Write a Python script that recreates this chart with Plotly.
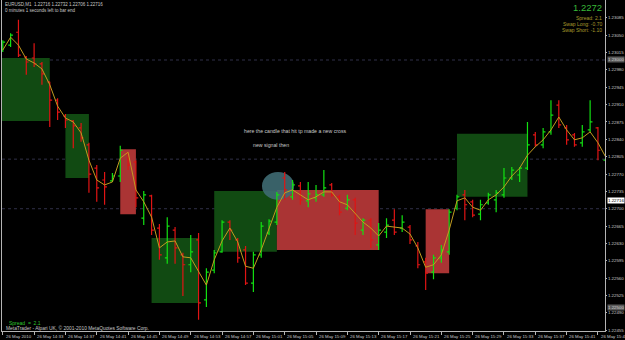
import plotly.graph_objects as go

# ---------------- data ----------------
bar_index = list(range(78))

opens = [1.23020, 1.23030, 1.23056, 1.23006, 1.23004, 1.22992, 1.22956, 1.22919, 1.22887, 1.22877,
         1.22863, 1.22829, 1.22782, 1.22758, 1.22756, 1.22766, 1.22812, 1.22794, 1.22681, 1.22726,
         1.22661, 1.22601, 1.22657, 1.22607, 1.22587, 1.22637, 1.22516, 1.22576, 1.22613, 1.22673,
         1.22637, 1.22617, 1.22550, 1.22607, 1.22651, 1.22673, 1.22762, 1.22724, 1.22746, 1.22716,
         1.22722, 1.22728, 1.22748, 1.22724, 1.22701, 1.22718, 1.22657, 1.22677, 1.22627, 1.22653,
         1.22677, 1.22661, 1.22663, 1.22625, 1.22593, 1.22572, 1.22601, 1.22613, 1.22701, 1.22728,
         1.22714, 1.22689, 1.22712, 1.22718, 1.22728, 1.22762, 1.22768, 1.22782, 1.22849, 1.22829,
         1.22855, 1.22909, 1.22863, 1.22849, 1.22833, 1.22859, 1.22863, 1.22798]

highs = [1.23040, 1.23054, 1.23081, 1.23008, 1.23034, 1.22996, 1.22956, 1.22923, 1.22891, 1.22879,
         1.22873, 1.22833, 1.22788, 1.22774, 1.22772, 1.22827, 1.22814, 1.22798, 1.22736, 1.22728,
         1.22669, 1.22683, 1.22663, 1.22611, 1.22647, 1.22651, 1.22580, 1.22617, 1.22677, 1.22677,
         1.22641, 1.22625, 1.22613, 1.22673, 1.22679, 1.22734, 1.22774, 1.22758, 1.22754, 1.22754,
         1.22748, 1.22778, 1.22752, 1.22728, 1.22728, 1.22722, 1.22681, 1.22681, 1.22671, 1.22681,
         1.22699, 1.22687, 1.22667, 1.22633, 1.22601, 1.22607, 1.22627, 1.22699, 1.22728, 1.22738,
         1.22718, 1.22718, 1.22732, 1.22738, 1.22782, 1.22784, 1.22784, 1.22875, 1.22855, 1.22863,
         1.22919, 1.22919, 1.22869, 1.22853, 1.22869, 1.22919, 1.22865, 1.22818]

lows = [1.23016, 1.23026, 1.23006, 1.22970, 1.22986, 1.22950, 1.22865, 1.22879, 1.22863, 1.22822,
        1.22835, 1.22732, 1.22714, 1.22708, 1.22754, 1.22754, 1.22778, 1.22703, 1.22667, 1.22647,
        1.22597, 1.22589, 1.22589, 1.22524, 1.22572, 1.22476, 1.22502, 1.22570, 1.22611, 1.22637,
        1.22591, 1.22546, 1.22532, 1.22601, 1.22647, 1.22667, 1.22718, 1.22718, 1.22708, 1.22703,
        1.22714, 1.22724, 1.22724, 1.22687, 1.22697, 1.22647, 1.22647, 1.22621, 1.22617, 1.22641,
        1.22647, 1.22653, 1.22629, 1.22580, 1.22536, 1.22558, 1.22591, 1.22607, 1.22697, 1.22677,
        1.22683, 1.22677, 1.22708, 1.22693, 1.22722, 1.22758, 1.22754, 1.22778, 1.22825, 1.22822,
        1.22849, 1.22863, 1.22829, 1.22825, 1.22825, 1.22855, 1.22798, 1.22784]

closes = [1.23036, 1.23050, 1.23010, 1.22996, 1.22992, 1.22972, 1.22919, 1.22895, 1.22879, 1.22867,
          1.22843, 1.22770, 1.22742, 1.22744, 1.22766, 1.22818, 1.22788, 1.22722, 1.22728, 1.22657,
          1.22607, 1.22665, 1.22621, 1.22587, 1.22613, 1.22510, 1.22572, 1.22611, 1.22673, 1.22657,
          1.22601, 1.22550, 1.22607, 1.22665, 1.22675, 1.22728, 1.22738, 1.22748, 1.22718, 1.22730,
          1.22728, 1.22742, 1.22728, 1.22693, 1.22718, 1.22671, 1.22677, 1.22637, 1.22657, 1.22667,
          1.22653, 1.22673, 1.22637, 1.22587, 1.22570, 1.22601, 1.22617, 1.22693, 1.22724, 1.22708,
          1.22687, 1.22708, 1.22728, 1.22732, 1.22762, 1.22778, 1.22782, 1.22829, 1.22829, 1.22855,
          1.22889, 1.22869, 1.22839, 1.22829, 1.22855, 1.22875, 1.22818, 1.22814]

ma_values = [1.23020, 1.23046, 1.23030, 1.23002, 1.22994, 1.22982, 1.22950, 1.22907, 1.22883, 1.22875,
             1.22853, 1.22798, 1.22758, 1.22748, 1.22754, 1.22802, 1.22814, 1.22738, 1.22714, 1.22683,
             1.22621, 1.22633, 1.22635, 1.22603, 1.22601, 1.22572, 1.22546, 1.22597, 1.22635, 1.22661,
             1.22633, 1.22584, 1.22580, 1.22617, 1.22661, 1.22703, 1.22732, 1.22738, 1.22728, 1.22718,
             1.22724, 1.22734, 1.22734, 1.22714, 1.22708, 1.22691, 1.22673, 1.22661, 1.22645, 1.22665,
             1.22663, 1.22661, 1.22649, 1.22621, 1.22582, 1.22587, 1.22607, 1.22657, 1.22716, 1.22722,
             1.22703, 1.22697, 1.22718, 1.22728, 1.22744, 1.22766, 1.22782, 1.22808, 1.22825, 1.22839,
             1.22859, 1.22885, 1.22859, 1.22839, 1.22843, 1.22855, 1.22833, 1.22804]

# signal boxes: start bar, end bar, top price, bottom price, kind
box_start = [-0.1, 8, 15, 19, 27, 35, 54, 58]
box_end = [6, 11, 17, 25, 35, 48, 57, 67]
box_top = [1.23004, 1.22891, 1.22820, 1.22641, 1.22736, 1.22738, 1.22699, 1.22851]
box_bottom = [1.22877, 1.22762, 1.22689, 1.22510, 1.22613, 1.22617, 1.22570, 1.22724]
box_kind = ["buy", "buy", "sell", "buy", "buy", "sell", "sell", "buy"]

# highlighted ellipse (bars, prices)
ellipse_bars = [33.1, 37.2]
ellipse_prices = [1.22718, 1.22774]

# horizontal levels
level_prices = [1.23000, 1.22800, 1.22700]
level_labels = [1.23000, 1.22500]
bid_price = 1.22716

# axis ticks
price_ticks = [1.22455, 1.22490, 1.22525, 1.22560, 1.22595, 1.22630, 1.22665, 1.22700, 1.22735,
               1.22770, 1.22805, 1.22840, 1.22875, 1.22910, 1.22945, 1.22980, 1.23015, 1.23050, 1.23085]
time_tick_bars = list(range(0, 77, 4))
time_tick_labels = ["26 May 2010", "26 May 14:33", "26 May 14:37", "26 May 14:41", "26 May 14:45",
                    "26 May 14:49", "26 May 14:53", "26 May 14:57", "26 May 15:01", "26 May 15:05",
                    "26 May 15:09", "26 May 15:13", "26 May 15:17", "26 May 15:21", "26 May 15:25",
                    "26 May 15:29", "26 May 15:33", "26 May 15:37", "26 May 15:41", "26 May 15:45"]

FONT = "Liberation Sans, Arial, sans-serif"
AX = "#b4b4b4"

fig = go.Figure()

fig.add_trace(go.Ohlc(
    x=bar_index, open=opens, high=highs, low=lows, close=closes,
    increasing=dict(line=dict(color="#12e012", width=1.2)),
    decreasing=dict(line=dict(color="#e01414", width=1.2)),
    tickwidth=0.3, hoverinfo="skip", showlegend=False))

fig.add_trace(go.Scatter(
    x=bar_index, y=ma_values, mode="lines",
    line=dict(color="#c29c20", width=1), hoverinfo="skip", showlegend=False))

shapes = []
for p in level_prices:
    shapes.append(dict(type="line", xref="paper", yref="y", x0=0, x1=1, y0=p, y1=p,
                       line=dict(color="#303048", width=1, dash="dot"), layer="below"))
for s, e, t, b, k in zip(box_start, box_end, box_top, box_bottom, box_kind):
    shapes.append(dict(type="rect", xref="x", yref="y", x0=s, x1=e, y0=b, y1=t,
                       fillcolor="#114a12" if k == "buy" else "#aa3434",
                       line=dict(width=0), layer="below"))
shapes.append(dict(type="circle", xref="x", yref="y",
                   x0=ellipse_bars[0], x1=ellipse_bars[1],
                   y0=ellipse_prices[0], y1=ellipse_prices[1],
                   fillcolor="#3f6b73", line=dict(width=0), opacity=0.9, layer="below"))

ann = []
def txt(x, y, s, color="#c8c8c8", size=5.0, xa="left", xref="paper", yref="paper", **kw):
    ann.append(dict(x=x, y=y, xref=xref, yref=yref, text=s, showarrow=False,
                    xanchor=xa, yanchor="middle", font=dict(family=FONT, size=size, color=color), **kw))

txt(0.002, 0.985, "EURUSD,M1  1.22716 1.22732 1.22706 1.22716", size=4.5)
txt(0.002, 0.967, "0 minutes 1 seconds left to bar end", size=4.5)
txt(0.998, 0.976, "1.2272", color="#38b838", size=9.5, xa="right")
txt(0.998, 0.946, "Spread: 2.1", color="#a89a2c", xa="right")
txt(0.998, 0.927, "Swap Long: -0.70", color="#a89a2c", xa="right")
txt(0.998, 0.909, "Swap Short: -1.10", color="#a89a2c", xa="right")
txt(0.008, 0.024, "Spread  =  2.1", color="#2ec42e")
txt(0.004, 0.009, "MetaTrader - Alpari UK, © 2001-2010 MetaQuotes Software Corp.", size=4.9)
txt(30.5, 1.22857, "here the candle that hit tp made a new cross", size=5.2, xref="x", yref="y")
txt(31.7, 1.22829, "new signal then", size=5.2, xref="x", yref="y")

# time axis labels, starting right at their tick
for b, lab in zip(time_tick_bars, time_tick_labels):
    txt(b + 0.1, -0.0155, lab, size=4.35, xref="x", yref="paper")

for p in level_labels:
    txt(1.003, p, f"{p:.5f}", color="#d0d0d0", size=4.4, yref="y", bgcolor="#5a5a5a", borderpad=0)
txt(1.003, bid_price, f"{bid_price:.5f}", color="#000000", size=4.4, yref="y", bgcolor="#ffffff", borderpad=0)

fig.update_layout(
    template="none",
    width=625, height=340, autosize=False,
    margin=dict(l=2, r=20, t=0, b=9, pad=0),
    paper_bgcolor="#000000", plot_bgcolor="#000000",
    shapes=shapes, annotations=ann, showlegend=False,
    xaxis=dict(range=[-0.1, 76.9], showgrid=False, zeroline=False, automargin=False,
               showline=True, linecolor=AX, linewidth=1, rangeslider=dict(visible=False),
               tickmode="array", tickvals=time_tick_bars, showticklabels=False,
               ticks="outside", ticklen=3, tickcolor=AX),
    yaxis=dict(range=[1.224534, 1.23121], side="right", showgrid=False, zeroline=False,
               automargin=False, showline=True, mirror=True, linecolor=AX, linewidth=1,
               tickmode="array", tickvals=price_ticks, ticktext=[f"{v:.5f}" for v in price_ticks],
               ticks="outside", ticklen=1, tickcolor=AX,
               tickfont=dict(family=FONT, size=4.4, color="#c8c8c8")),
)

fig.write_html("out.html")
